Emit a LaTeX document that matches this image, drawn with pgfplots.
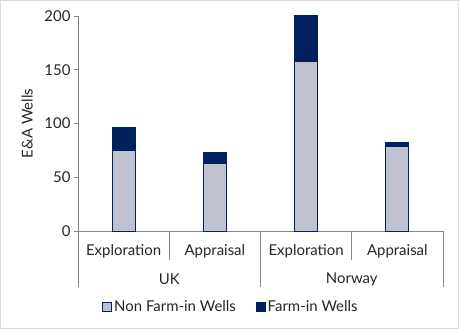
\documentclass[border=0pt]{standalone}
\usepackage{pgfplots}
\pgfplotsset{compat=1.18}
\usepackage{fontspec}
\setmainfont{Lato}
\definecolor{navy}{RGB}{0,32,96}
\definecolor{lightbar}{RGB}{192,194,208}
\definecolor{axgray}{RGB}{134,134,134}
\definecolor{framegray}{RGB}{217,217,217}
\newcommand{\lf}{\fontsize{15}{17}\selectfont}
\begin{document}
\begin{tikzpicture}
\useasboundingbox (0bp,0bp) rectangle (459bp,329bp);
\draw[framegray, line width=1.2bp] (0.6bp,0.6bp) rectangle (458.4bp,328.4bp);
\begin{axis}[
  at={(78bp,98bp)}, anchor=south west,
  scale only axis, width=365bp, height=215bp,
  xmin=-0.5, xmax=3.5, ymin=0, ymax=200,
  ybar stacked, bar width=23bp,
  axis x line*=bottom, axis y line*=left,
  axis line style={axgray, line width=0.8bp, -},
  xtick=\empty,
  ytick={0,50,100,150,200},
  tick style={axgray, line width=0.8bp},
  y tick label style={font=\lf, text=black!85},
  ytick align=outside, major tick length=4bp,
  /pgf/number format/assume math mode=true,
  ylabel={E\&A Wells}, ylabel style={font=\lf, text=black!85, yshift=5bp},
  clip=false,
  legend style={draw=none, font=\lf, text=black!85, at={(153bp,-76bp)}, anchor=center, legend columns=2, /tikz/every even column/.append style={column sep=18bp}},
  legend image code/.code={\draw[#1, draw=navy, line width=0.8bp] (0bp,-4.5bp) rectangle (9bp,4.5bp);},
]
\addplot[fill=lightbar, draw=navy, line width=1bp] coordinates {(0,75) (1,63) (2,158) (3,79)};
\addplot[fill=navy, draw=navy, line width=1bp] coordinates {(0,21) (1,10) (2,42) (3,3)};
\legend{Non Farm-in Wells, Farm-in Wells}
\draw[axgray, line width=0.8bp] (axis cs:0.5,0) -- ([yshift=-29bp]axis cs:0.5,0);
\draw[axgray, line width=0.8bp] (axis cs:2.5,0) -- ([yshift=-29bp]axis cs:2.5,0);
\draw[axgray, line width=0.8bp] (axis cs:-0.5,0) -- ([yshift=-56bp]axis cs:-0.5,0);
\draw[axgray, line width=0.8bp] (axis cs:1.5,0) -- ([yshift=-56bp]axis cs:1.5,0);
\draw[axgray, line width=0.8bp] (axis cs:3.5,0) -- ([yshift=-56bp]axis cs:3.5,0);
\node[font=\lf, text=black!85] at ([yshift=-20bp]axis cs:0,0) {Exploration};
\node[font=\lf, text=black!85] at ([yshift=-20bp]axis cs:1,0) {Appraisal};
\node[font=\lf, text=black!85] at ([yshift=-20bp]axis cs:2,0) {Exploration};
\node[font=\lf, text=black!85] at ([yshift=-20bp]axis cs:3,0) {Appraisal};
\node[font=\lf, text=black!85] at ([yshift=-48bp]axis cs:0.5,0) {UK};
\node[font=\lf, text=black!85] at ([yshift=-48bp]axis cs:2.5,0) {Norway};
\end{axis}
\end{tikzpicture}
\end{document}
